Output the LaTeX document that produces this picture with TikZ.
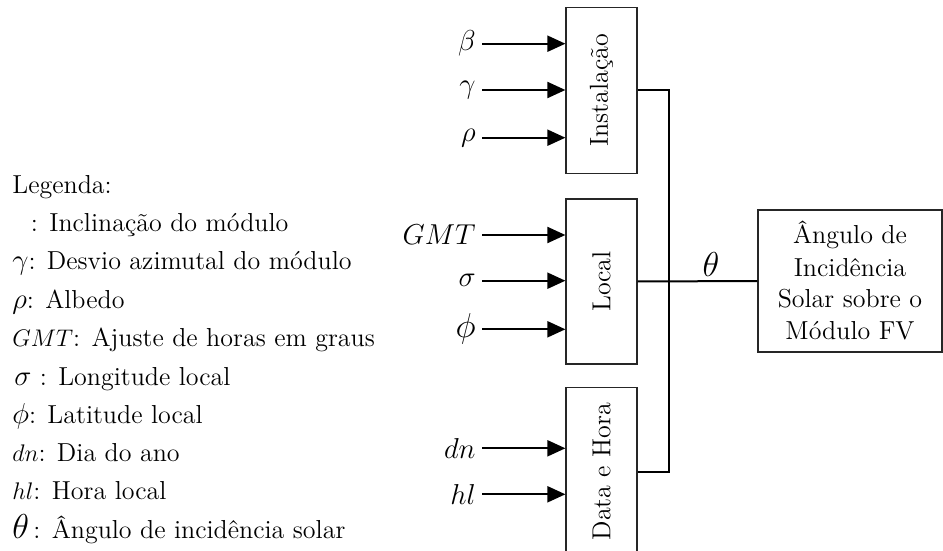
\documentclass[tikz,border=0pt]{standalone}
\usetikzlibrary{arrows.meta}
\begin{document}
\begin{tikzpicture}[x=0.5pt,y=-0.5pt,
  every node/.style={font=\fontsize{13}{16}\selectfont},
  box/.style={draw=black!85, line width=0.6pt, inner sep=0pt, minimum width=35.5pt},
  inarrow/.style={line width=1pt, -{Triangle[length=9pt,width=8pt]}},
  wire/.style={line width=1pt},
  sym/.style={anchor=east, inner sep=3pt, font=\fontsize{14}{16}\selectfont},
  legend/.style={anchor=base west, inner sep=0pt},
  big/.style={font=\fontsize{18}{20}\selectfont}]

\useasboundingbox (0,0) rectangle (943,551);

% processing blocks
\node[box, minimum height=83pt]   (inst)  at (601.5,90.3)  {\rotatebox{90}{Instalação}};
\node[box, minimum height=82.5pt] (local) at (601.5,281.5) {\rotatebox{90}{Local}};
\node[box, minimum height=84.3pt] (date)  at (601.5,471.6) {\rotatebox{90}{Data e Hora}};
\node[box, minimum width=92pt, minimum height=71pt, align=center] (result) at (850,281)
  {Ângulo de\\Incidência\\Solar sobre o\\Módulo FV};

% inputs
\node[sym] (beta)  at (482,43.7)  {$\beta$};
\node[sym] (gamma) at (482,90)    {$\gamma$};
\node[sym] (rho)   at (482,137.7) {$\rho$};
\node[sym] (gmt)   at (482,235)   {$GMT$};
\node[sym, font=\fontsize{15}{18}\selectfont] (sigma) at (482,280.7) {$\sigma$};
\node[sym, font=\fontsize{16}{18}\selectfont] (phi) at (482,329.3) {$\phi$};
\node[sym] (dn)    at (482,448.3) {$dn$};
\node[sym] (hl)    at (482,494.3) {$hl$};

\foreach \s/\b in {beta/inst, gamma/inst, rho/inst, gmt/local, sigma/local, phi/local, dn/date, hl/date}
  \draw[inarrow] (\s.east) -- (\s.east -| \b.west);

% collecting bus
\coordinate (bus) at (669,0);
\draw[wire] (inst.east) -| (bus |- date.east) -- (date.east);
\draw[wire] (local.east) -- (result.west);
\node[big] (theta) at (711,264) {$\theta$};

% legend
\node[legend] (l0) at (12,193) {Legenda:};
\node[legend] (l1) at (12,231) {\phantom{$\beta$}\hspace{2pt}: Inclinação do módulo};
\node[legend] (l2) at (12,270) {{\fontsize{15}{16}\selectfont$\gamma$}: Desvio azimutal do módulo};
\node[legend] (l3) at (12,308) {{\fontsize{15}{16}\selectfont$\rho$}: Albedo};
\node[legend] (l4) at (12,346) {$GMT$: Ajuste de horas em graus};
\node[legend] (l5) at (14,385) {{\fontsize{15}{16}\selectfont$\sigma$} : Longitude local};
\node[legend] (l6) at (12,423) {{\fontsize{15}{16}\selectfont$\phi$}: Latitude local};
\node[legend] (l7) at (12,461) {$dn$: Dia do ano};
\node[legend] (l8) at (12,499) {$hl$: Hora local};
\node[legend] (l9) at (12,538) {{\fontsize{17}{16}\selectfont$\theta$}\,: Ângulo de incidência solar};
\end{tikzpicture}
\end{document}
